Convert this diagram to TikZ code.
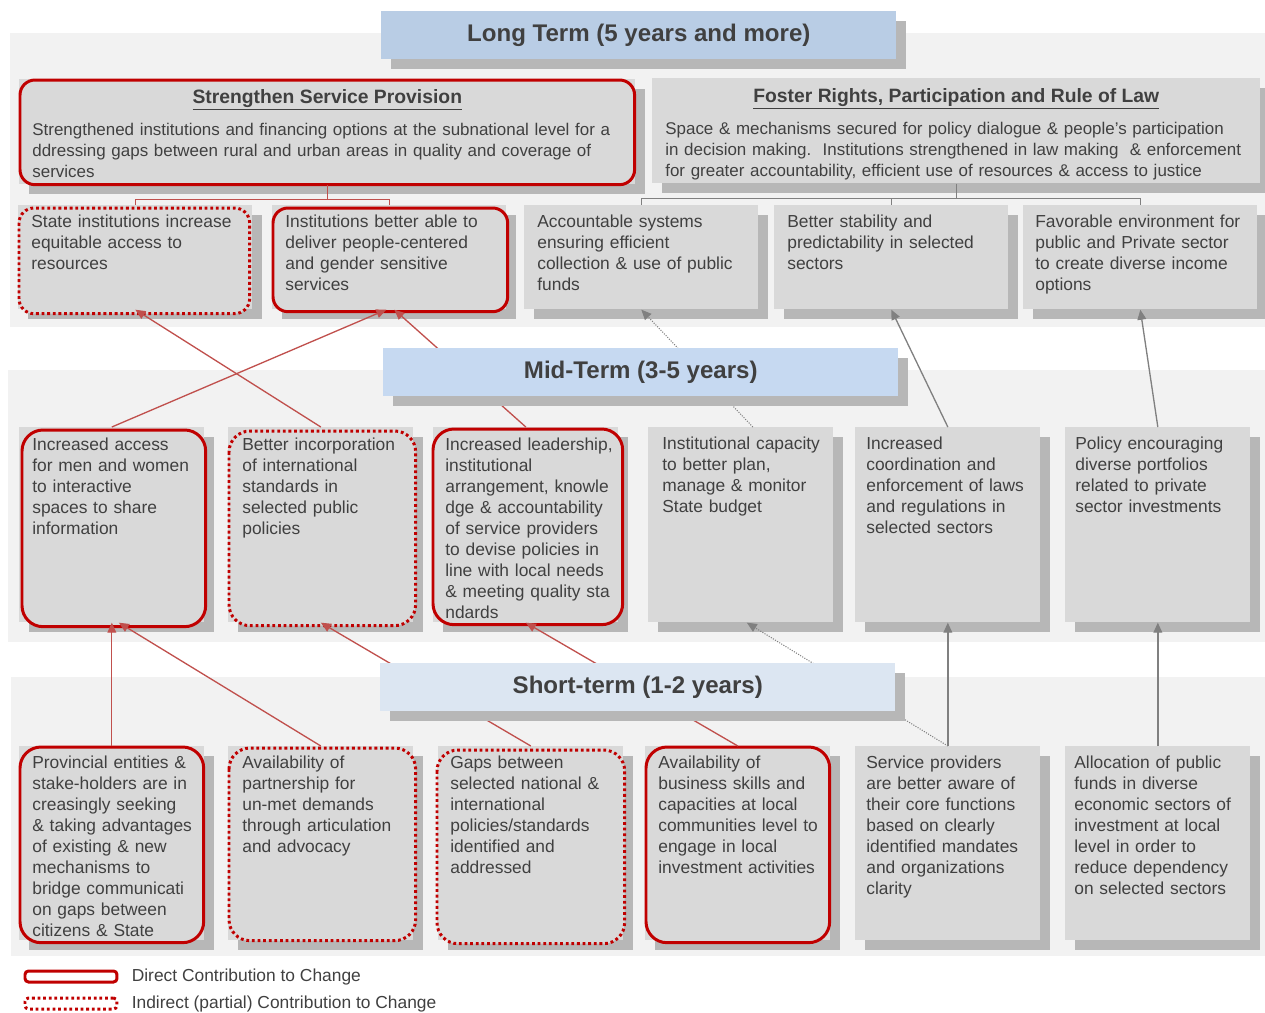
\documentclass[tikz,border=0pt]{standalone}
\usepackage{fontspec}
\setmainfont{Liberation Sans}
\usetikzlibrary{positioning,arrows.meta,calc,shadows}
\definecolor{tcRed}{RGB}{192,0,0}
\definecolor{tcLink}{RGB}{192,80,77}
\definecolor{tcLine}{RGB}{128,128,128}
\definecolor{tcText}{RGB}{64,64,64}
\definecolor{tcCard}{RGB}{217,217,217}
\definecolor{tcShade}{RGB}{183,183,183}
\definecolor{tcPanel}{RGB}{242,242,242}
\definecolor{tcLong}{RGB}{185,205,229}
\definecolor{tcMid}{RGB}{198,217,241}
\definecolor{tcShort}{RGB}{220,230,242}

\begin{document}
\begin{tikzpicture}[
    x=0.02cm, y=-0.02cm,
    shade box/.style={drop shadow={shadow xshift=0.2cm, shadow yshift=-0.2cm, fill=tcShade, opacity=1}},
    card/.style={rectangle, fill=tcCard, anchor=north west, inner sep=0pt, shade box},
    ltcard/.style={card, minimum width=4.68cm, minimum height=2.08cm},
    mtcard/.style={card, minimum width=3.7cm, minimum height=3.9cm},
    stcard/.style={card, minimum width=3.7cm, minimum height=3.88cm},
    hdcard/.style={card, minimum height=2.1cm},
    cardtext/.style={anchor=north west, inner sep=0pt, text width=5cm, align=left, text height=8.8pt, text=tcText, font=\fontsize{9.9}{11.95}\selectfont},
    hdbody/.style={cardtext, text width=12cm, font=\fontsize{9.65}{11.95}\selectfont},
    hdtitle/.style={inner sep=0pt, text=tcText, font=\fontsize{11}{13}\selectfont\bfseries},
    period/.style={rectangle, anchor=north west, inner sep=0pt, minimum width=10.3cm, minimum height=0.96cm, text=tcText, font=\fontsize{13.7}{16}\selectfont\bfseries, shade box},
    direct/.style={draw=tcRed, line width=1.7pt, fill=tcCard, rounded corners=0.42cm},
    indirect/.style={direct, dash pattern=on 1.6pt off 1.6pt},
    link/.style={draw=tcLink, line width=0.75pt, -{Triangle[length=5.7pt,width=5pt]}},
    linkgray/.style={link, draw=tcLine},
    linkdot/.style={linkgray, line width=0.6pt, dash pattern=on 0.6pt off 0.8pt},
    bracket/.style={draw=tcLink, line width=0.75pt},
    legkey/.style={rectangle, anchor=north west, inner sep=0pt, minimum width=1.84cm, minimum height=0.22cm, fill=white, rounded corners=2pt},
    legtext/.style={inner sep=0pt, text=tcText, font=\fontsize{9.9}{11.95}\selectfont}
]
  \useasboundingbox (0,0) rectangle (1265,1012);

  \fill[tcPanel] (10,33) rectangle (1265,327);
  \fill[tcPanel] (8,370) rectangle (1265,642);
  \fill[tcPanel] (11,677) rectangle (1265,956);

  % long term
  \node[hdcard, minimum width=12.32cm] (ssp) at (19,79) {};
  \node[hdcard, minimum width=12.16cm] (frl) at (652,78) {};
  \draw[direct, rounded corners=0.3cm] ($(ssp.north west)+(1,1)$) rectangle ($(ssp.south east)+(-1,0)$);
  \node[hdtitle] (sspt) at ($(ssp.north)+(0,21)$) {\underline{Strengthen Service Provision}};
  \node[hdbody] (sspb) at ($(ssp.north west)+(13,41)$) {Strengthened institutions and financing options at the subnational level for a\\ ddressing gaps between rural and urban areas in quality and coverage of\\ services};
  \node[hdtitle] (frlt) at ($(frl.north)+(0,21)$) {\underline{Foster Rights, Participation and Rule of Law}};
  \node[hdbody] (frlb) at ($(frl.north west)+(13,41)$) {Space \& mechanisms secured for policy dialogue \& people’s participation\\ in decision making.\ \ Institutions strengthened in law making \ \& enforcement\\ for greater accountability, efficient use of resources \& access to justice};

  \node[ltcard] (l1) at (18,205) {};
  \node[ltcard] (l2) at (272,205) {};
  \node[ltcard] (l3) at (524,205) {};
  \node[ltcard] (l4) at (774,205) {};
  \node[ltcard] (l5) at (1023,205) {};

  \coordinate (sspj) at ($(ssp.south)+(0,15)$);
  \coordinate (frlj) at ($(frl.south)+(0,15)$);
  \draw[bracket] (ssp.south) -- (sspj) -| (l1.north) (sspj) -| (l2.north);
  \draw[bracket, draw=tcLine] (frl.south) -- (frlj) -| (l3.north) (frlj) -| (l5.north) (frlj -| l4.north) -- (l4.north);

  \draw[indirect, rounded corners=0.3cm] ($(l1.north west)+(1,3)$) rectangle ($(l1.south east)+(-3,4)$);
  \draw[direct, rounded corners=0.3cm] ($(l2.north west)+(1,3)$) rectangle ($(l2.south east)+(1,2)$);

  \node[cardtext] (l1t) at ($(l1.north west)+(13,7)$) {State institutions increase\\ equitable access to\\ resources};
  \node[cardtext] (l2t) at ($(l2.north west)+(13,7)$) {Institutions better able to\\ deliver people-centered\\ and gender sensitive\\ services};
  \node[cardtext] (l3t) at ($(l3.north west)+(13,7)$) {Accountable systems\\ ensuring efficient\\ collection \& use of public\\ funds};
  \node[cardtext] (l4t) at ($(l4.north west)+(13,7)$) {Better stability and\\ predictability in selected\\ sectors};
  \node[cardtext] (l5t) at ($(l5.north west)+(12,7)$) {Favorable environment for\\ public and Private sector\\ to create diverse income\\ options};

  % mid term
  \node[mtcard] (m1) at (19,427) {};
  \node[mtcard] (m2) at (228,427) {};
  \node[mtcard] (m3) at (433,427) {};
  \node[mtcard] (m4) at (648,427) {};
  \node[mtcard] (m5) at (855,427) {};
  \node[mtcard] (m6) at (1065,427) {};

  \draw[direct] ($(m1.north west)+(3,3)$) rectangle ($(m1.south east)+(1,4)$);
  \draw[indirect] ($(m2.north west)+(1,4)$) rectangle ($(m2.south east)+(2,3)$);
  \draw[direct] ($(m3.north west)+(0,2)$) rectangle ($(m3.south east)+(4,2)$);

  \node[cardtext] (m1t) at ($(m1.north west)+(13,8)$) {Increased access\\ for men and women\\ to interactive\\ spaces to share\\ information};
  \node[cardtext] (m2t) at ($(m2.north west)+(14,8)$) {Better incorporation\\ of international\\ standards in\\ selected public\\ policies};
  \node[cardtext] (m3t) at ($(m3.north west)+(12,8)$) {Increased leadership,\\ institutional\\ arrangement, knowle\\ dge \& accountability\\ of service providers\\ to devise policies in\\ line with local needs\\ \& meeting quality sta\\ ndards};
  \node[cardtext] (m4t) at ($(m4.north west)+(14,7)$) {Institutional capacity\\ to better plan,\\ manage \& monitor\\ State budget};
  \node[cardtext] (m5t) at ($(m5.north west)+(11,7)$) {Increased\\ coordination and\\ enforcement of laws\\ and regulations in\\ selected sectors};
  \node[cardtext] (m6t) at ($(m6.north west)+(10,7)$) {Policy encouraging\\ diverse portfolios\\ related to private\\ sector investments};

  % short term
  \node[stcard] (s1) at (19,746) {};
  \node[stcard] (s2) at (228,746) {};
  \node[stcard] (s3) at (438,746) {};
  \node[stcard] (s4) at (645,746) {};
  \node[stcard] (s5) at (855,746) {};
  \node[stcard] (s6) at (1065,746) {};

  \draw[direct] ($(s1.north west)+(1,1)$) rectangle ($(s1.south east)+(-1,2)$);
  \draw[indirect] ($(s2.north west)+(1,2)$) rectangle ($(s2.south east)+(2,0)$);
  \draw[indirect] ($(s3.north west)+(-1,4)$) rectangle ($(s3.south east)+(1,3)$);
  \draw[direct] ($(s4.north west)+(1,1)$) rectangle ($(s4.south east)+(-1,2)$);

  \node[cardtext] (s1t) at ($(s1.north west)+(13,7)$) {Provincial entities \&\\ stake-holders are in\\ creasingly seeking\\ \& taking advantages\\ of existing \& new\\ mechanisms to\\ bridge communicati\\ on gaps between\\ citizens \& State};
  \node[cardtext] (s2t) at ($(s2.north west)+(14,7)$) {Availability of\\ partnership for\\ un-met demands\\ through articulation\\ and advocacy};
  \node[cardtext] (s3t) at ($(s3.north west)+(12,7)$) {Gaps between\\ selected national \&\\ international\\ policies/standards\\ identified and\\ addressed};
  \node[cardtext] (s4t) at ($(s4.north west)+(13,7)$) {Availability of\\ business skills and\\ capacities at local\\ communities level to\\ engage in local\\ investment activities};
  \node[cardtext] (s5t) at ($(s5.north west)+(11,7)$) {Service providers\\ are better aware of\\ their core functions\\ based on clearly\\ identified mandates\\ and organizations\\ clarity};
  \node[cardtext] (s6t) at ($(s6.north west)+(9,7)$) {Allocation of public\\ funds in diverse\\ economic sectors of\\ investment at local\\ level in order to\\ reduce dependency\\ on selected sectors};

  % contributions
  \draw[link] (m1.north) -- ($(l2.south)+(-3,0)$);
  \draw[link] (m2.north) -- (l1.south);
  \draw[link] (m3.north) -- ($(l2.south)+(5,0)$);
  \draw[linkdot] ($(m4.north)+(12,0)$) -- (l3.south);
  \draw[linkgray] (m5.north) -- (l4.south);
  \draw[linkgray] (m6.north) -- (l5.south);
  \draw[link] (s1.north) -- (m1.south);
  \draw[link] (s2.north) -- ($(m1.south)+(7,0)$);
  \draw[link] (s3.north) -- (m2.south);
  \draw[link] (s4.north) -- (m3.south);
  \draw[linkdot] (s5.north) -- ($(m4.south)+(6,0)$);
  \draw[linkgray] (s5.north) -- (m5.south);
  \draw[linkgray] (s6.north) -- (m6.south);

  \node[period, fill=tcLong] (ltp) at (381,11) {Long Term (5 years and more)};
  \node[period, fill=tcMid] (mtp) at (383,348) {Mid-Term (3-5 years)};
  \node[period, fill=tcShort] (stp) at (380,663) {Short-term (1-2 years)};

  % legend
  \node[legkey, direct, rounded corners=2pt, fill=white] (keyd) at (23.5,969.5) {};
  \node[legkey, indirect, rounded corners=2pt, fill=white] (keyi) at (23.5,996.5) {};
  \node[legtext, right=0.26cm of keyd] (keydt) {Direct Contribution to Change};
  \node[legtext, right=0.26cm of keyi] (keyit) {Indirect (partial) Contribution to Change};
\end{tikzpicture}
\end{document}
